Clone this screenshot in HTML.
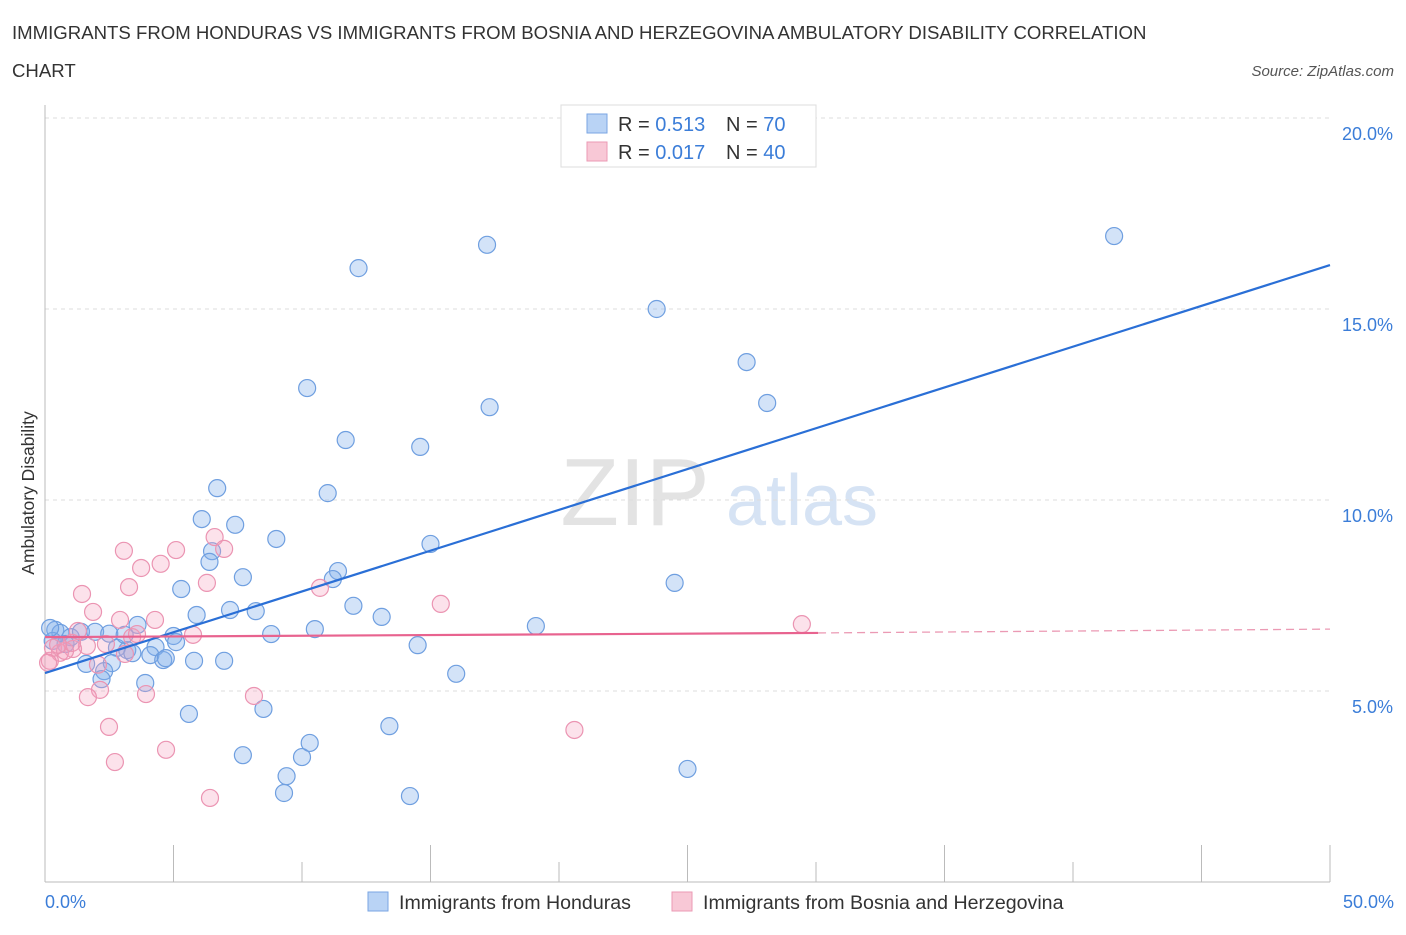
<!DOCTYPE html>
<html><head><meta charset="utf-8"><style>
body{margin:0;background:#fff;font-family:"Liberation Sans",sans-serif;}
svg text{font-family:"Liberation Sans",sans-serif;}
</style></head><body>
<svg width="1406" height="930" viewBox="0 0 1406 930" xmlns="http://www.w3.org/2000/svg">
<text x="12" y="39" font-size="18.6" fill="#333">IMMIGRANTS FROM HONDURAS VS IMMIGRANTS FROM BOSNIA AND HERZEGOVINA AMBULATORY DISABILITY CORRELATION</text>
<text x="12" y="77" font-size="18.6" fill="#333">CHART</text>
<text x="1394" y="76" font-size="15" font-style="italic" fill="#555" text-anchor="end">Source: ZipAtlas.com</text>
<g id="watermark">
<text x="635" y="525" font-size="96" font-family="Liberation Serif,serif" fill="#e3e3e3" text-anchor="middle">ZIP</text>
<text x="802" y="525" font-size="72" fill="#d6e3f4" text-anchor="middle">atlas</text>
</g>
<g id="grid"></g>
<g id="axes"></g>
<g id="pts"></g>
<g id="trend"></g>
<g>
<rect x="561" y="105" width="255" height="62" fill="#fff" stroke="#ddd"/>
<rect x="587" y="114" width="20" height="19" fill="#b9d3f5" stroke="#7aa6e3"/>
<rect x="587" y="142" width="20" height="19" fill="#f8c8d6" stroke="#eb9ab4"/>
<text x="618" y="131" font-size="20" fill="#333">R = <tspan fill="#3b7dd8">0.513</tspan><tspan x="726">N = </tspan><tspan fill="#3b7dd8">70</tspan></text>
<text x="618" y="159" font-size="20" fill="#333">R = <tspan fill="#3b7dd8">0.017</tspan><tspan x="726">N = </tspan><tspan fill="#3b7dd8">40</tspan></text>
</g>
<text x="34" y="493" font-size="17.5" fill="#333" text-anchor="middle" transform="rotate(-90 34 493)">Ambulatory Disability</text>
<text x="45" y="908" font-size="18" fill="#3b7dd8">0.0%</text>
<text x="1394" y="908" font-size="18" fill="#3b7dd8" text-anchor="end">50.0%</text>
<g>
<rect x="368" y="892" width="20" height="19" fill="#b9d3f5" stroke="#7aa6e3"/>
<text x="399" y="909" font-size="19.6" fill="#333">Immigrants from Honduras</text>
<rect x="672" y="892" width="20" height="19" fill="#f8c8d6" stroke="#eb9ab4"/>
<text x="703" y="909" font-size="19.6" fill="#333">Immigrants from Bosnia and Herzegovina</text>
</g>
</svg>
<script>
const yTicks=[5,10,15,20];
const xTickVals=[0,5,10,15,20,25,30,35,40,45,50];
const hondurasX=[41.6,17.2,12.2,23.8,27.3,28.1,10.2,17.3,11.7,14.6,6.7,11,6.1,7.4,9,15,6.5,6.4,11.4,11.2,7.7,5.3,24.5,5.9,7.2,8.2,12,13.1,19.1,10.5,8.8,3.6,5,5.1,14.5,4.3,2.8,3.2,3.4,4.1,4.6,4.7,5.8,6.97,2.6,1.6,2.3,2.2,16,3.9,8.5,5.6,13.4,7.7,10,10.3,9.4,9.3,14.2,25,0.4,0.6,0.3,1,0.8,1.4,1.95,2.5,3.1,0.2];
const hondurasY=[16.91,16.68,16.07,15.0,13.61,12.54,12.93,12.43,11.57,11.39,10.31,10.18,9.5,9.35,8.98,8.85,8.66,8.38,8.14,7.93,7.98,7.67,7.83,6.99,7.12,7.09,7.23,6.94,6.7,6.62,6.49,6.73,6.44,6.28,6.2,6.15,6.13,6.07,5.99,5.94,5.81,5.86,5.79,5.79,5.73,5.71,5.52,5.31,5.45,5.21,4.53,4.4,4.08,3.32,3.27,3.64,2.77,2.33,2.25,2.96,6.6,6.52,6.31,6.41,6.23,6.55,6.55,6.5,6.47,6.65];
const bosniaX=[29.45,15.4,10.7,6.6,6.97,5.1,3.07,4.5,3.74,6.3,3.27,1.44,1.87,2.92,4.28,5.76,3.39,3.58,2.37,1.63,1.09,0.58,0.19,0.31,0.78,2.06,2.14,1.67,3.93,8.13,2.49,20.6,4.71,2.72,6.42,1.05,1.28,3.11,0.51,0.12];
const bosniaY=[6.75,7.28,7.7,9.03,8.72,8.69,8.67,8.33,8.22,7.83,7.72,7.54,7.07,6.86,6.86,6.47,6.41,6.49,6.23,6.18,6.1,6.0,5.79,6.13,6.05,5.69,5.03,4.84,4.92,4.87,4.06,3.98,3.46,3.14,2.2,6.26,6.57,5.97,6.21,5.74];
const blueTrend=[5.47,16.15];
const pinkTrend=[6.41,6.52,6.62];
const pinkTrendX=[0,30.08,50];
const NS="http://www.w3.org/2000/svg";
const X0=45,X1=1330,Y0=882,PX=191/5;
const sx=v=>X0+(v/50)*(X1-X0);
const sy=v=>Y0-v*PX;
function mk(tag,attrs,parent){const e=document.createElementNS(NS,tag);for(const k in attrs)e.setAttribute(k,attrs[k]);parent.appendChild(e);return e;}
const grid=document.getElementById('grid'),axes=document.getElementById('axes'),pts=document.getElementById('pts'),trend=document.getElementById('trend');
yTicks.forEach(t=>{
 const l=mk('line',{x1:X0,x2:X1,y1:sy(t),y2:sy(t),stroke:'#ddd','stroke-dasharray':'4 4'},grid);
 
 
 const tx=mk('text',{x:1393,y:sy(t)+22,'font-size':18,fill:'#3b7dd8','text-anchor':'end'},grid);
 tx.textContent=t.toFixed(1)+'%';
 
 
});
const ya=mk('line',{x1:X0,x2:X0,y1:105,y2:Y0,stroke:'#bbb'},axes);


const xa=mk('line',{x1:X0,x2:X1,y1:Y0,y2:Y0,stroke:'#bbb'},axes);


xTickVals.forEach((t,i)=>{
 const tl=mk('line',{x1:sx(t),x2:sx(t),y1:(i%2==1||i==10)?845:862,y2:Y0,stroke:'#bbb'},axes);
 
 
});
hondurasX.forEach((v,i)=>{
 const c=mk('circle',{cx:sx(v),cy:sy(hondurasY[i]),r:8.5,fill:'rgba(130,175,235,0.35)',stroke:'#6f9fe0','stroke-width':1.2},pts);
 
 
});
bosniaX.forEach((v,i)=>{
 const c=mk('circle',{cx:sx(v),cy:sy(bosniaY[i]),r:8.5,fill:'rgba(245,160,190,0.3)',stroke:'#eb94b2','stroke-width':1.2},pts);
 
 
});
const bl=mk('line',{x1:sx(0),y1:sy(blueTrend[0]),x2:sx(50),y2:sy(blueTrend[1]),stroke:'#2a6fd6','stroke-width':2.2},trend);


const pl=mk('line',{x1:sx(pinkTrendX[0]),y1:sy(pinkTrend[0]),x2:sx(pinkTrendX[1]),y2:sy(pinkTrend[1]),stroke:'#e8638f','stroke-width':2.2},trend);


const pd=mk('line',{x1:sx(pinkTrendX[1]),y1:sy(pinkTrend[1]),x2:sx(pinkTrendX[2]),y2:sy(pinkTrend[2]),stroke:'#eb9ab4','stroke-width':1.3,'stroke-dasharray':'8 5'},trend);


</script>
</body></html>
